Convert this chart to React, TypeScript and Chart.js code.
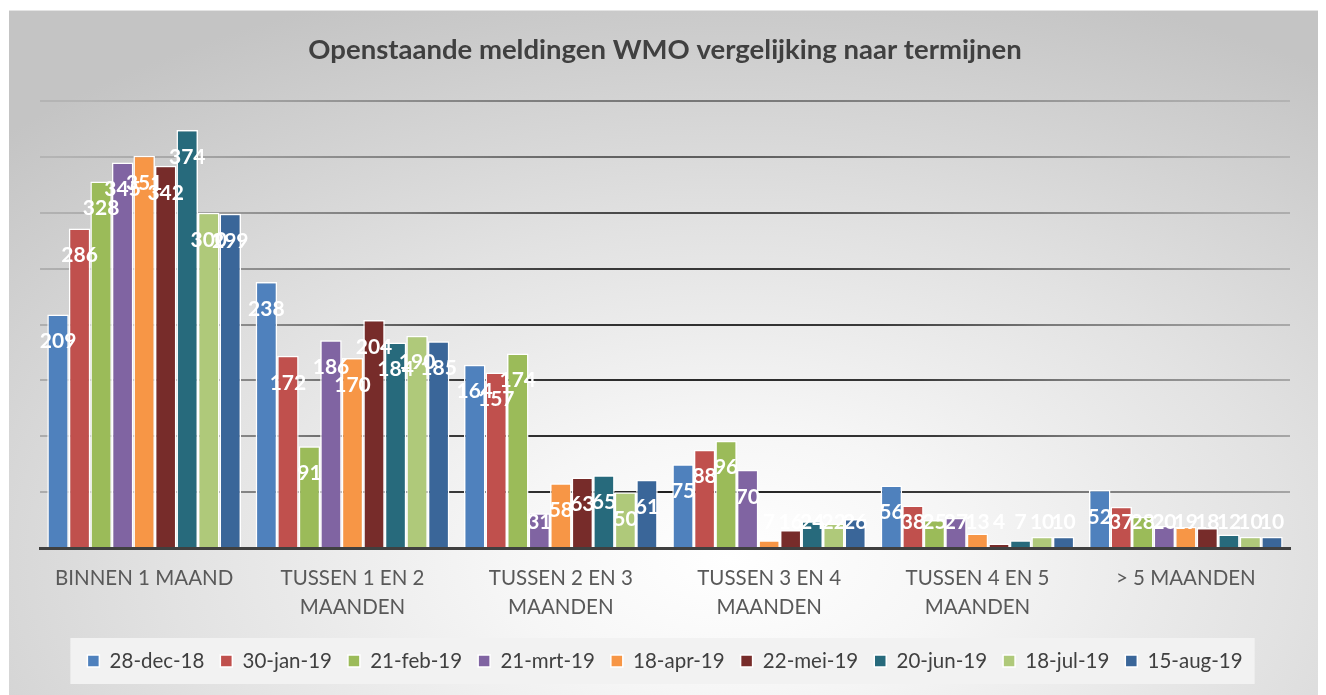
import React, { useEffect, useRef } from "react";
import { Chart, registerables } from "chart.js";

Chart.register(...registerables);

const titleText = "Openstaande meldingen WMO vergelijking naar termijnen";

const categories: string[][] = [
  ["BINNEN 1 MAAND"],
  ["TUSSEN 1 EN 2", "MAANDEN"],
  ["TUSSEN 2 EN 3", "MAANDEN"],
  ["TUSSEN 3 EN 4", "MAANDEN"],
  ["TUSSEN 4 EN 5", "MAANDEN"],
  ["> 5 MAANDEN"],
];

const seriesNames = [
  "28-dec-18",
  "30-jan-19",
  "21-feb-19",
  "21-mrt-19",
  "18-apr-19",
  "22-mei-19",
  "20-jun-19",
  "18-jul-19",
  "15-aug-19",
];

const dec18 = [209, 238, 164, 75, 56, 52];
const jan19 = [286, 172, 157, 88, 38, 37];
const feb19 = [328, 91, 174, 96, 25, 28];
const mrt19 = [345, 186, 31, 70, 27, 20];
const apr19 = [351, 170, 58, 7, 13, 19];
const mei19 = [342, 204, 63, 16, 4, 18];
const jun19 = [374, 184, 65, 24, 7, 12];
const jul19 = [300, 190, 50, 22, 10, 10];
const aug19 = [299, 185, 61, 26, 10, 10];

const seriesValues = [dec18, jan19, feb19, mrt19, apr19, mei19, jun19, jul19, aug19];

const seriesColors = [
  "#4F81BD",
  "#C0504D",
  "#9BBB59",
  "#8064A2",
  "#F79646",
  "#772C2A",
  "#276A7C",
  "#AFC97A",
  "#3A6699",
];

const yMax = 400;
const yStep = 50;

const FONT = "Lato, 'Open Sans', sans-serif";

const legendBoxPlugin = {
  id: "legendBox",
  beforeDraw(chart: any) {
    const lg = chart.legend;
    if (!lg || !lg.legendHitBoxes || !lg.legendHitBoxes.length) return;
    const hb = lg.legendHitBoxes;
    let minX = Infinity, maxX = -Infinity, minY = Infinity, maxY = -Infinity;
    hb.forEach((h: any) => {
      minX = Math.min(minX, h.left);
      maxX = Math.max(maxX, h.left + h.width);
      minY = Math.min(minY, h.top);
      maxY = Math.max(maxY, h.top + h.height);
    });
    const cy = (minY + maxY) / 2;
    const ctx = chart.ctx;
    ctx.save();
    ctx.fillStyle = "#f2f2f2";
    ctx.fillRect(minX - 17, cy - 23, maxX - minX + 29, 46);
    ctx.restore();
  },
};

const valueLabelPlugin = {
  id: "valueLabels",
  afterDatasetsDraw(chart: any) {
    const ctx = chart.ctx;
    ctx.save();
    ctx.fillStyle = "#ffffff";
    ctx.font = `bold 21px ${FONT}`;
    ctx.textAlign = "center";
    ctx.textBaseline = "middle";
    chart.data.datasets.forEach((ds: any, di: number) => {
      const meta = chart.getDatasetMeta(di);
      meta.data.forEach((el: any, i: number) => {
        const y = Math.min(el.y + 27, el.base - 25);
        ctx.fillText(String(ds.data[i]), el.x, y);
      });
    });
    ctx.restore();
  },
};

export default function App() {
  const ref = useRef<HTMLCanvasElement | null>(null);

  useEffect(() => {
    if (!ref.current) return;
    const gridColor = (c: any) => {
      if (c.tick && c.tick.value === 0) return "rgba(0,0,0,0)";
      const chart = c.chart;
      const g = chart.ctx.createRadialGradient(680, 480, 0, 680, 480, 720);
      g.addColorStop(0, "#1e1e1e");
      g.addColorStop(0.35, "#3a3a3a");
      g.addColorStop(0.55, "#7a7a7a");
      g.addColorStop(0.85, "#a8a8a8");
      g.addColorStop(1, "#b4b4b4");
      return g;
    };

    const chart = new Chart(ref.current, {
      type: "bar",
      data: {
        labels: categories,
        datasets: seriesNames.map((name, i) => ({
          label: name,
          data: seriesValues[i],
          backgroundColor: seriesColors[i],
          borderColor: "#ffffff",
          borderWidth: 1.5,
          categoryPercentage: 0.93,
          barPercentage: 1,
        })),
      },
      options: {
        animation: false,
        responsive: false,
        maintainAspectRatio: false,
        layout: { padding: { left: 31, right: 29, top: 0, bottom: 13.75 } },
        plugins: {
          title: {
            display: true,
            text: titleText,
            color: "#404040",
            font: { family: FONT, size: 27.5, weight: "bold", lineHeight: 1.2 },
            padding: { top: 23, bottom: 34 },
          },
          legend: {
            position: "bottom",
            labels: {
              boxWidth: 12,
              boxHeight: 12,
              padding: 16,
              color: "#404040",
              font: { family: FONT, size: 20.5 },
            },
          },
          tooltip: { enabled: false },
        },
        scales: {
          x: {
            grid: { display: false, drawTicks: false },
            border: { display: true, color: "#404040", width: 3 },
            ticks: {
              color: "#595959",
              font: { family: FONT, size: 20.5, lineHeight: 1.42 },
              padding: 16,
              maxRotation: 0,
              autoSkip: false,
            },
            afterFit: (scale: any) => {
              scale.height = 86.75;
            },
          },
          y: {
            min: 0,
            max: yMax,
            ticks: { display: false, stepSize: yStep },
            border: { display: false },
            grid: { color: gridColor, lineWidth: 2, drawTicks: false },
          },
        },
      },
      plugins: [legendBoxPlugin, valueLabelPlugin],
    });
    return () => chart.destroy();
  }, []);

  return (
    <div
      style={{
        marginTop: 2,
        marginLeft: 1,
        width: 1310,
        height: 685,
        background:
          "radial-gradient(ellipse 78% 88% at 55% 80%, #ffffff 0%, #f6f6f6 22%, #e2e2e2 55%, #c4c4c4 100%)",
        borderTop: "1px solid #e4e4e4",
        boxSizing: "border-box",
      }}
    >
      <canvas ref={ref} width={1310} height={684} style={{ display: "block" }} />
    </div>
  );
}
